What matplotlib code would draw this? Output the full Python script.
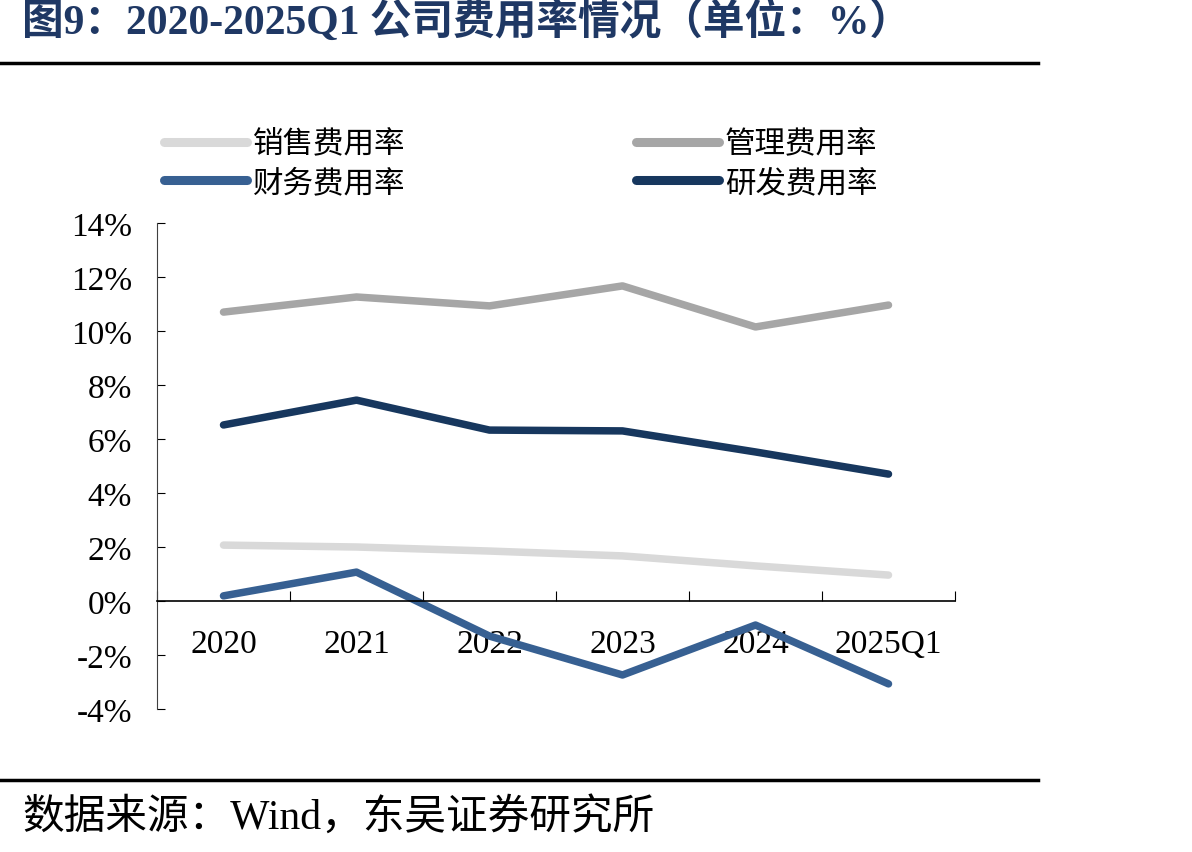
import matplotlib
matplotlib.use('Agg')
import matplotlib.pyplot as plt
from matplotlib.ticker import FixedLocator, FuncFormatter

plt.rcParams['font.family'] = ['Liberation Serif', 'Noto Sans CJK SC']

years = ['2020', '2021', '2022', '2023', '2024', '2025Q1']
sales = [2.07, 2.00, 1.85, 1.67, 1.30, 0.96]       # 销售费用率
admin = [10.70, 11.26, 10.93, 11.67, 10.15, 10.96]  # 管理费用率
finance = [0.19, 1.07, -1.30, -2.74, -0.89, -3.07]  # 财务费用率
rnd = [6.52, 7.44, 6.33, 6.30, 5.52, 4.70]          # 研发费用率

fig = plt.figure(figsize=(11.92, 8.53), dpi=100)
ax = fig.add_axes([157/1192, 1-710/853, (955-157)/1192, (710-224)/853])

x = range(len(years))
kw = dict(lw=5.4, solid_capstyle='round', solid_joinstyle='round')
l1, = ax.plot(x, sales, color='#D9D9D9', label='销售费用率', **kw)
l2, = ax.plot(x, admin, color='#A6A6A6', label='管理费用率', **kw)
l3, = ax.plot(x, finance, color='#376092', label='财务费用率', **kw)
l4, = ax.plot(x, rnd, color='#17375E', label='研发费用率', **kw)

ax.set_xlim(-0.5, 5.5)
ax.set_ylim(-4, 14)
ax.set_yticks(range(-4, 15, 2))
ax.yaxis.set_major_formatter(FuncFormatter(lambda v, p: '%d%%' % v))
ax.set_xticks(list(x))
ax.set_xticklabels(years)
ax.xaxis.set_minor_locator(FixedLocator([i - 0.5 for i in range(7)]))

for s in ['top', 'right']:
    ax.spines[s].set_visible(False)
ax.spines['bottom'].set_position(('data', 0))
ax.spines['bottom'].set_linewidth(1.2)
ax.spines['left'].set_linewidth(0.8)
ax.spines['left'].set_color('#404040')

ax.tick_params(axis='x', which='major', length=0, pad=20, labelsize=24)
ax.tick_params(axis='x', which='minor', direction='in', length=7, width=0.8)
ax.tick_params(axis='y', direction='in', length=6, width=0.8, pad=18, labelsize=24)

leg = fig.legend(handles=[l1, l3, l2, l4], ncol=2, loc='upper left',
                 bbox_to_anchor=(152/1192, 1-117/853), frameon=False,
                 prop={'family': 'Noto Sans CJK SC', 'size': 22},
                 handlelength=2.7, handletextpad=0.2, columnspacing=7.55,
                 labelspacing=0.25, borderaxespad=0)
for h in leg.legend_handles:
    h.set_linewidth(6.5)

fig.text(22/1192, 1-22/853, '图9：2020-2025Q1 公司费用率情况（单位：%）',
         fontsize=30, fontweight='bold', color='#1F3864', va='center', ha='left')
fig.add_artist(plt.Line2D([0, 1038/1192], [1-64/853, 1-64/853], color='black', lw=2.5))
fig.add_artist(plt.Line2D([0, 1038/1192], [1-781/853, 1-781/853], color='black', lw=2.5))
fig.text(22/1192, 1-818/853, '数据来源：Wind，东吴证券研究所', fontsize=30,
         va='center', ha='left')

fig.savefig('out.png', dpi=100)
